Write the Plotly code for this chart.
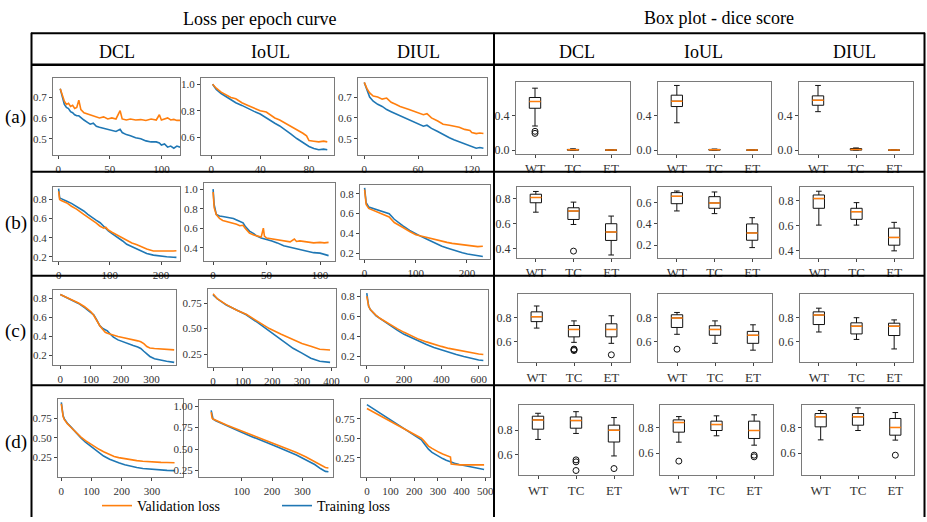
import plotly.graph_objects as go

W, H = 927, 522
ORANGE = '#ff7f0e'
BLUE = '#1f77b4'
FONT = 'Liberation Serif, Times New Roman, serif'

# ---------------- Loss-per-epoch data ----------------
# row (a)
a_dcl_ep = [2, 4, 6, 8, 10, 12, 14, 16, 18, 20, 22, 25, 28, 31, 34, 37, 40, 44, 48, 52, 56, 60, 62, 66, 70, 75, 80, 85, 90, 95, 98, 100, 103, 106, 109, 112, 115, 118]
a_dcl_val = [0.74, 0.71, 0.68, 0.665, 0.67, 0.655, 0.66, 0.645, 0.65, 0.685, 0.64, 0.625, 0.62, 0.615, 0.61, 0.605, 0.60, 0.605, 0.595, 0.60, 0.595, 0.635, 0.595, 0.59, 0.595, 0.59, 0.592, 0.588, 0.595, 0.59, 0.615, 0.59, 0.595, 0.60, 0.59, 0.593, 0.588, 0.588]
a_dcl_train = [0.74, 0.70, 0.665, 0.65, 0.645, 0.63, 0.625, 0.615, 0.61, 0.61, 0.60, 0.59, 0.58, 0.57, 0.575, 0.56, 0.555, 0.55, 0.545, 0.54, 0.535, 0.545, 0.53, 0.52, 0.515, 0.505, 0.50, 0.49, 0.485, 0.485, 0.48, 0.47, 0.475, 0.46, 0.465, 0.455, 0.465, 0.46]

a_ioul_ep = [1, 4, 8, 12, 16, 20, 25, 30, 35, 40, 45, 48, 52, 56, 60, 65, 70, 75, 78, 80, 84, 88, 92, 95]
a_ioul_val = [1.0, 0.97, 0.94, 0.92, 0.90, 0.89, 0.86, 0.84, 0.82, 0.80, 0.79, 0.77, 0.745, 0.73, 0.71, 0.685, 0.66, 0.63, 0.61, 0.575, 0.57, 0.565, 0.57, 0.565]
a_ioul_train = [1.0, 0.96, 0.93, 0.905, 0.88, 0.86, 0.84, 0.815, 0.795, 0.775, 0.745, 0.725, 0.705, 0.685, 0.66, 0.625, 0.59, 0.56, 0.54, 0.53, 0.515, 0.505, 0.51, 0.505]

a_diul_ep = [0, 3, 6, 10, 15, 20, 25, 30, 35, 40, 50, 60, 66, 70, 75, 82, 88, 95, 100, 106, 112, 118, 120, 125, 129, 133]
a_diul_val = [0.77, 0.74, 0.72, 0.705, 0.70, 0.69, 0.695, 0.675, 0.665, 0.655, 0.64, 0.625, 0.615, 0.62, 0.60, 0.585, 0.57, 0.565, 0.56, 0.555, 0.545, 0.54, 0.53, 0.525, 0.528, 0.525]
a_diul_train = [0.77, 0.73, 0.70, 0.68, 0.665, 0.655, 0.64, 0.63, 0.62, 0.61, 0.59, 0.57, 0.56, 0.565, 0.55, 0.535, 0.52, 0.505, 0.495, 0.485, 0.475, 0.465, 0.46, 0.455, 0.458, 0.455]

# row (b)
b_dcl_ep = [0, 2, 5, 10, 16, 25, 35, 49, 57, 65, 73, 81, 88, 92, 97, 105, 117, 125, 133, 143, 153, 162, 172, 185, 198, 211, 224, 230]
b_dcl_val = [0.887, 0.80, 0.79, 0.78, 0.765, 0.73, 0.70, 0.644, 0.615, 0.59, 0.555, 0.52, 0.50, 0.51, 0.48, 0.455, 0.42, 0.395, 0.37, 0.345, 0.325, 0.30, 0.28, 0.26, 0.258, 0.262, 0.26, 0.262]
b_dcl_train = [0.915, 0.817, 0.81, 0.80, 0.783, 0.76, 0.73, 0.68, 0.645, 0.61, 0.585, 0.557, 0.52, 0.50, 0.47, 0.44, 0.40, 0.365, 0.33, 0.305, 0.28, 0.255, 0.234, 0.217, 0.205, 0.20, 0.195, 0.193]

b_ioul_ep = [0, 1, 3, 6, 9, 14, 19, 22, 25, 28, 30, 34, 38, 41, 45, 47, 48, 50, 55, 60, 66, 72, 76, 78, 81, 86, 90, 94, 100, 104, 108]
b_ioul_val = [0.97, 0.81, 0.74, 0.70, 0.68, 0.665, 0.655, 0.64, 0.625, 0.63, 0.60, 0.55, 0.53, 0.52, 0.51, 0.60, 0.52, 0.50, 0.49, 0.48, 0.47, 0.46, 0.49, 0.465, 0.47, 0.46, 0.455, 0.45, 0.455, 0.45, 0.455]
b_ioul_train = [1.0, 0.84, 0.74, 0.725, 0.72, 0.71, 0.70, 0.685, 0.67, 0.655, 0.62, 0.57, 0.545, 0.52, 0.50, 0.495, 0.49, 0.49, 0.47, 0.45, 0.42, 0.405, 0.395, 0.39, 0.385, 0.375, 0.365, 0.35, 0.345, 0.335, 0.32]

b_diul_ep = [0, 3, 8, 18, 28, 38, 48, 58, 66, 75, 88, 100, 110, 121, 131, 141, 151, 161, 171, 181, 191, 201, 211, 221, 231]
b_diul_val = [0.843, 0.693, 0.653, 0.63, 0.61, 0.59, 0.567, 0.51, 0.49, 0.46, 0.42, 0.387, 0.375, 0.36, 0.345, 0.333, 0.32, 0.31, 0.30, 0.293, 0.285, 0.277, 0.27, 0.267, 0.27]
b_diul_train = [0.86, 0.71, 0.667, 0.65, 0.633, 0.615, 0.60, 0.543, 0.51, 0.477, 0.43, 0.393, 0.37, 0.343, 0.318, 0.293, 0.27, 0.253, 0.235, 0.22, 0.205, 0.193, 0.185, 0.177, 0.167]

# row (c)
c_dcl_ep = [0, 20, 40, 60, 80, 100, 110, 120, 130, 140, 148, 155, 165, 175, 190, 205, 220, 240, 255, 265, 275, 285, 295, 310, 330, 350, 375]
c_dcl_val = [0.84, 0.81, 0.78, 0.75, 0.71, 0.66, 0.62, 0.56, 0.51, 0.47, 0.44, 0.43, 0.42, 0.405, 0.395, 0.385, 0.375, 0.365, 0.35, 0.34, 0.32, 0.29, 0.275, 0.27, 0.265, 0.26, 0.255]
c_dcl_train = [0.84, 0.81, 0.78, 0.745, 0.70, 0.655, 0.625, 0.57, 0.51, 0.48, 0.47, 0.455, 0.42, 0.39, 0.36, 0.34, 0.32, 0.30, 0.285, 0.27, 0.24, 0.21, 0.185, 0.16, 0.145, 0.135, 0.123]

c_ioul_ep = [0, 15, 45, 80, 112, 150, 190, 230, 270, 300, 330, 360, 395]
c_ioul_val = [0.84, 0.79, 0.734, 0.68, 0.64, 0.575, 0.50, 0.445, 0.39, 0.355, 0.328, 0.298, 0.29]
c_ioul_train = [0.83, 0.79, 0.73, 0.68, 0.635, 0.56, 0.475, 0.39, 0.307, 0.26, 0.21, 0.18, 0.17]

c_diul_ep = [0, 5, 10, 20, 30, 50, 70, 100, 130, 165, 200, 240, 280, 320, 360, 400, 440, 480, 520, 560, 600, 625]
c_diul_val = [0.80, 0.74, 0.70, 0.665, 0.645, 0.61, 0.58, 0.545, 0.51, 0.475, 0.44, 0.405, 0.37, 0.345, 0.32, 0.30, 0.28, 0.265, 0.25, 0.235, 0.225, 0.22]
c_diul_train = [0.83, 0.75, 0.70, 0.665, 0.645, 0.605, 0.58, 0.54, 0.50, 0.46, 0.42, 0.385, 0.35, 0.32, 0.29, 0.265, 0.24, 0.22, 0.20, 0.18, 0.165, 0.16]

# row (d)
d_dcl_ep = [0, 3, 6, 10, 15, 20, 30, 40, 50, 65, 80, 95, 110, 125, 140, 160, 175, 190, 210, 230, 250, 270, 290, 310, 330, 350, 375]
d_dcl_val = [0.93, 0.83, 0.77, 0.73, 0.70, 0.68, 0.64, 0.60, 0.56, 0.51, 0.465, 0.425, 0.39, 0.355, 0.325, 0.29, 0.265, 0.25, 0.235, 0.222, 0.212, 0.205, 0.198, 0.193, 0.19, 0.188, 0.185]
d_dcl_train = [0.95, 0.84, 0.78, 0.74, 0.71, 0.685, 0.645, 0.60, 0.555, 0.50, 0.445, 0.40, 0.35, 0.31, 0.27, 0.23, 0.205, 0.185, 0.16, 0.14, 0.125, 0.112, 0.105, 0.098, 0.093, 0.089, 0.085]

d_ioul_ep = [0, 3, 6, 15, 30, 50, 75, 100, 130, 160, 190, 220, 250, 280, 310, 340, 360, 375, 385]
d_ioul_val = [0.93, 0.86, 0.85, 0.835, 0.81, 0.78, 0.745, 0.71, 0.67, 0.63, 0.59, 0.55, 0.505, 0.46, 0.41, 0.355, 0.31, 0.285, 0.28]
d_ioul_train = [0.95, 0.87, 0.85, 0.83, 0.805, 0.775, 0.735, 0.695, 0.65, 0.61, 0.565, 0.52, 0.475, 0.43, 0.375, 0.32, 0.27, 0.24, 0.235]

d_diul_ep = [0, 15, 30, 50, 70, 90, 110, 130, 150, 170, 190, 210, 220, 230, 240, 250, 260, 275, 290, 305, 320, 335, 350, 353, 356, 370, 390, 420, 450, 470, 495]
d_diul_val = [0.88, 0.855, 0.83, 0.795, 0.76, 0.725, 0.69, 0.66, 0.63, 0.595, 0.56, 0.53, 0.51, 0.50, 0.47, 0.44, 0.40, 0.37, 0.34, 0.32, 0.30, 0.28, 0.265, 0.26, 0.17, 0.165, 0.16, 0.16, 0.155, 0.16, 0.16]
d_diul_train = [0.93, 0.90, 0.87, 0.83, 0.79, 0.75, 0.715, 0.675, 0.635, 0.60, 0.56, 0.52, 0.50, 0.48, 0.44, 0.40, 0.36, 0.32, 0.29, 0.26, 0.24, 0.22, 0.20, 0.195, 0.19, 0.18, 0.165, 0.145, 0.125, 0.115, 0.10]

# ---------------- Dice-score box data: [low whisker, Q1, median, Q3, high whisker] for WT, TC, ET ----------------
classes = ['WT', 'TC', 'ET']
box_a_dcl = [[0.282, 0.49, 0.569, 0.616, 0.725], [0.0, 0.0, 0.003, 0.008, 0.015], [0.0, 0.0, 0.0, 0.0, 0.0]]
out_a_dcl = [[0.196, 0.22], [], []]
box_a_ioul = [[0.32, 0.51, 0.573, 0.643, 0.757], [0.0, 0.0, 0.003, 0.008, 0.012], [0.0, 0.0, 0.0, 0.0, 0.0]]
out_a_ioul = [[], [], []]
box_a_diul = [[0.45, 0.525, 0.584, 0.635, 0.757], [0.0, 0.0, 0.008, 0.018, 0.025], [0.0, 0.0, 0.0, 0.0, 0.0]]
out_a_diul = [[], [], []]

box_b_dcl = [[0.691, 0.766, 0.808, 0.834, 0.856], [0.593, 0.633, 0.70, 0.726, 0.771], [0.35, 0.466, 0.533, 0.599, 0.66]]
out_b_dcl = [[], [0.381], []]
box_b_ioul = [[0.522, 0.59, 0.659, 0.694, 0.709], [0.497, 0.547, 0.597, 0.656, 0.70], [0.178, 0.247, 0.316, 0.40, 0.459]]
out_b_ioul = [[], [], []]
box_b_diul = [[0.605, 0.739, 0.816, 0.845, 0.875], [0.605, 0.651, 0.712, 0.739, 0.784], [0.40, 0.445, 0.507, 0.581, 0.627]]
out_b_diul = [[], [], []]

box_c_dcl = [[0.712, 0.765, 0.805, 0.845, 0.893], [0.595, 0.64, 0.701, 0.733, 0.771], [0.587, 0.64, 0.701, 0.747, 0.813]]
out_c_dcl = [[], [0.528, 0.535, 0.54], [0.493]]
box_c_ioul = [[0.661, 0.717, 0.795, 0.821, 0.84], [0.587, 0.653, 0.701, 0.731, 0.771], [0.531, 0.587, 0.653, 0.685, 0.739]]
out_c_ioul = [[0.539], [], []]
box_c_diul = [[0.68, 0.741, 0.819, 0.845, 0.875], [0.619, 0.664, 0.728, 0.755, 0.797], [0.541, 0.651, 0.728, 0.752, 0.779]]
out_c_diul = [[], [], []]

box_d_dcl = [[0.724, 0.808, 0.884, 0.914, 0.938], [0.773, 0.816, 0.878, 0.908, 0.951], [0.589, 0.703, 0.80, 0.841, 0.903]]
out_d_dcl = [[], [0.47, 0.541, 0.557], [0.486]]
box_d_ioul = [[0.687, 0.766, 0.842, 0.863, 0.889], [0.737, 0.779, 0.826, 0.853, 0.895], [0.663, 0.716, 0.779, 0.853, 0.903]]
out_d_ioul = [[0.537], [], [0.571, 0.584]]
box_d_diul = [[0.705, 0.808, 0.887, 0.913, 0.937], [0.779, 0.821, 0.887, 0.913, 0.958], [0.703, 0.742, 0.803, 0.874, 0.921]]
out_d_diul = [[], [], [0.584]]

row_labels = ['(a)', '(b)', '(c)', '(d)']
method_labels = ['DCL', 'IoUL', 'DIUL']

# ---------------- layout config (frames in px: x0, x1, y0, y1) ----------------
loss_cfg = [
    (a_dcl_ep, a_dcl_val, a_dcl_train, (53, 180, 79, 157), [-5, 118], [0.42, 0.79], [0, 50, 100], [0.5, 0.6, 0.7], '.1f'),
    (a_ioul_ep, a_ioul_val, a_ioul_train, (201, 334, 79, 157), [-8.5, 100.5], [0.462, 1.045], [0, 40, 80], [0.6, 0.8, 1.0], '.1f'),
    (a_diul_ep, a_diul_val, a_diul_train, (358, 487, 79, 157), [-7, 137], [0.42, 0.79], [0, 60, 120], [0.5, 0.6, 0.7], '.1f'),
    (b_dcl_ep, b_dcl_val, b_dcl_train, (53, 180, 189, 264), [-11, 237], [0.15, 0.93], [0, 100, 200], [0.2, 0.4, 0.6, 0.8], '.1f'),
    (b_ioul_ep, b_ioul_val, b_ioul_train, (204, 335, 185, 264), [-8.5, 114], [0.26, 1.06], [0, 50, 100], [0.4, 0.6, 0.8, 1.0], '.1f'),
    (b_diul_ep, b_diul_val, b_diul_train, (360, 490, 187, 262), [-9, 245], [0.137, 0.887], [0, 100, 200], [0.2, 0.4, 0.6, 0.8], '.1f'),
    (c_dcl_ep, c_dcl_val, c_dcl_train, (53, 176, 293, 369), [-24, 381], [0.09, 0.885], [0, 100, 200, 300], [0.2, 0.4, 0.6, 0.8], '.1f'),
    (c_ioul_ep, c_ioul_val, c_ioul_train, (208, 336, 292, 371), [-17, 415], [0.12, 0.885], [0, 100, 200, 300, 400], [0.25, 0.5, 0.75], '.2f'),
    (c_diul_ep, c_diul_val, c_diul_train, (361, 488, 293, 369), [-31, 650], [0.11, 0.86], [0, 200, 400, 600], [0.2, 0.4, 0.6, 0.8], '.1f'),
    (d_dcl_ep, d_dcl_val, d_dcl_train, (58, 183, 403, 482), [-11, 403], [0.0, 0.99], [0, 100, 200, 300], [0.25, 0.5, 0.75], '.2f'),
    (d_ioul_ep, d_ioul_val, d_ioul_train, (199, 333, 404, 482), [-40, 400], [0.17, 1.07], [100, 200, 300], [0.25, 0.5, 0.75, 1.0], '.2f'),
    (d_diul_ep, d_diul_val, d_diul_train, (361, 490, 403, 482), [-25, 520], [0.0, 1.0], [0, 100, 200, 300, 400, 500], [0.25, 0.5, 0.75], '.2f'),
]

box_cfg = [
    (box_a_dcl, out_a_dcl, (516, 630, 83, 155), [-0.04, 0.795], [0.0, 0.4]),
    (box_a_ioul, out_a_ioul, (658, 771, 83, 155), [-0.04, 0.795], [0.0, 0.4]),
    (box_a_diul, out_a_diul, (799, 913, 83, 155), [-0.04, 0.795], [0.0, 0.4]),
    (box_b_dcl, out_b_dcl, (517, 630, 189, 260), [0.33, 0.89], [0.4, 0.6, 0.8]),
    (box_b_ioul, out_b_ioul, (658, 771, 189, 260), [0.085, 0.745], [0.2, 0.4, 0.6]),
    (box_b_diul, out_b_diul, (800, 913, 189, 260), [0.347, 0.907], [0.4, 0.6, 0.8]),
    (box_c_dcl, out_c_dcl, (518, 630, 297, 366), [0.43, 0.99], [0.6, 0.8]),
    (box_c_ioul, out_c_ioul, (658, 772, 297, 366), [0.43, 0.99], [0.6, 0.8]),
    (box_c_diul, out_c_diul, (800, 913, 297, 366), [0.43, 0.99], [0.6, 0.8]),
    (box_d_dcl, out_d_dcl, (519, 633, 409, 480), [0.43, 1.005], [0.6, 0.8]),
    (box_d_ioul, out_d_ioul, (660, 773, 409, 480), [0.424, 0.98], [0.6, 0.8]),
    (box_d_diul, out_d_diul, (802, 914, 409, 480), [0.424, 0.98], [0.6, 0.8]),
]

fig = go.Figure()
layout = {}


def axis_style(size):
    return dict(showline=True, mirror=True, linecolor='#7a7a7a', linewidth=1,
                ticks='outside', ticklen=3, tickwidth=1, tickcolor='#444',
                tickfont=dict(family=FONT, size=size, color='#333'),
                showgrid=False, zeroline=False, fixedrange=True, automargin=False)


def add_axes(i, frame, xr, yr, xtv, xtt, ytv, ytt, xsize, ysize):
    x0, x1, y0, y1 = frame
    xn = 'xaxis' if i == 1 else f'xaxis{i}'
    yn = 'yaxis' if i == 1 else f'yaxis{i}'
    xa = axis_style(xsize)
    xa.update(domain=[x0 / W, x1 / W], range=xr, anchor=f'y{i}', tickvals=xtv, ticktext=xtt)
    ya = axis_style(ysize)
    ya.update(domain=[1 - y1 / H, 1 - y0 / H], range=yr, anchor=f'x{i}', tickvals=ytv, ticktext=ytt)
    layout[xn] = xa
    layout[yn] = ya


idx = 0
for k, (ep, val, train, frame, xr, yr, xt, yt, fmt) in enumerate(loss_cfg):
    idx += 1
    add_axes(idx, frame, xr, yr, xt, [str(v) for v in xt], yt, [format(v, fmt) for v in yt], 11, 11)
    fig.add_trace(go.Scatter(x=ep, y=train, mode='lines', name='Training loss',
                             line=dict(color=BLUE, width=1.6), legendgroup='train',
                             showlegend=(k == 0), legendrank=2,
                             xaxis=f'x{idx}', yaxis=f'y{idx}'))
    fig.add_trace(go.Scatter(x=ep, y=val, mode='lines', name='Validation loss',
                             line=dict(color=ORANGE, width=1.6), legendgroup='val',
                             showlegend=(k == 0), legendrank=1,
                             xaxis=f'x{idx}', yaxis=f'y{idx}'))

positions = [1, 2, 3]
HALF = 0.15
for stats, outs, frame, yr, yt in box_cfg:
    idx += 1
    add_axes(idx, frame, [0.5, 3.5], yr, positions, classes, yt, [format(v, '.1f') for v in yt], 13, 12)
    for p, s, o in zip(positions, stats, outs):
        lo, q1, med, q3, hi = s
        fig.add_trace(go.Box(x=[p], q1=[q1], median=[med], q3=[q3], lowerfence=[lo], upperfence=[hi],
                             width=0.3, whiskerwidth=0.5, boxpoints=False,
                             line=dict(color='#111', width=1), fillcolor='rgba(0,0,0,0)',
                             showlegend=False, hoverinfo='skip',
                             xaxis=f'x{idx}', yaxis=f'y{idx}'))
        fig.add_trace(go.Scatter(x=[p - HALF, p + HALF], y=[med, med], mode='lines',
                                 line=dict(color=ORANGE, width=1.5), showlegend=False,
                                 hoverinfo='skip', xaxis=f'x{idx}', yaxis=f'y{idx}'))
        if o:
            fig.add_trace(go.Scatter(x=[p] * len(o), y=o, mode='markers',
                                     marker=dict(symbol='circle-open', size=6, color='#111',
                                                 line=dict(width=1)),
                                     showlegend=False, hoverinfo='skip',
                                     xaxis=f'x{idx}', yaxis=f'y{idx}'))

# ---------------- table lines ----------------
def hline(y, x0, x1, w):
    return dict(type='line', xref='paper', yref='paper', x0=x0 / W, x1=x1 / W,
                y0=1 - y / H, y1=1 - y / H, line=dict(color='black', width=w))


def vline(x, y0, y1, w):
    return dict(type='line', xref='paper', yref='paper', x0=x / W, x1=x / W,
                y0=1 - y0 / H, y1=1 - y1 / H, line=dict(color='black', width=w))


shapes = [
    hline(33.5, 31, 925, 2), hline(65.5, 31, 925, 2.5),
    hline(173.5, 31, 925, 2), hline(278.5, 31, 925, 2), hline(389, 31, 925, 2),
    vline(31.5, 33, 522, 2), vline(924.5, 33, 522, 2), vline(494, 33, 522, 2),
]


def ann(text, x, y, size):
    return dict(text=text, x=x / W, y=1 - y / H, xref='paper', yref='paper',
                showarrow=False, xanchor='center', yanchor='middle',
                font=dict(family=FONT, size=size, color='black'))


annotations = [ann('Loss per epoch curve', 259, 19, 18), ann('Box plot - dice score', 719, 18, 18)]
for name, x in zip(method_labels, [117, 270, 418]):
    annotations.append(ann(name, x, 52, 18))
for name, x in zip(method_labels, [577, 703, 854]):
    annotations.append(ann(name, x, 52, 18))
for lab, y in zip(row_labels, [118, 225, 334, 446]):
    annotations.append(ann(lab, 16, y, 19))

fig.update_layout(
    template='none',
    width=W, height=H, autosize=False,
    margin=dict(l=0, r=0, t=0, b=0, pad=0),
    font=dict(family=FONT, color='black'),
    paper_bgcolor='white', plot_bgcolor='white',
    shapes=shapes, annotations=annotations,
    legend=dict(orientation='h', x=97 / W, y=1 - 511 / H, xanchor='left', yanchor='middle',
                font=dict(family=FONT, size=14, color='black'),
                entrywidth=135, entrywidthmode='pixels',
                bgcolor='rgba(0,0,0,0)', traceorder='normal', itemwidth=30),
    **layout,
)

fig.write_html('out.html', config={'displayModeBar': False},
               post_script="document.body.style.margin='0px';document.body.style.overflow='hidden';")
